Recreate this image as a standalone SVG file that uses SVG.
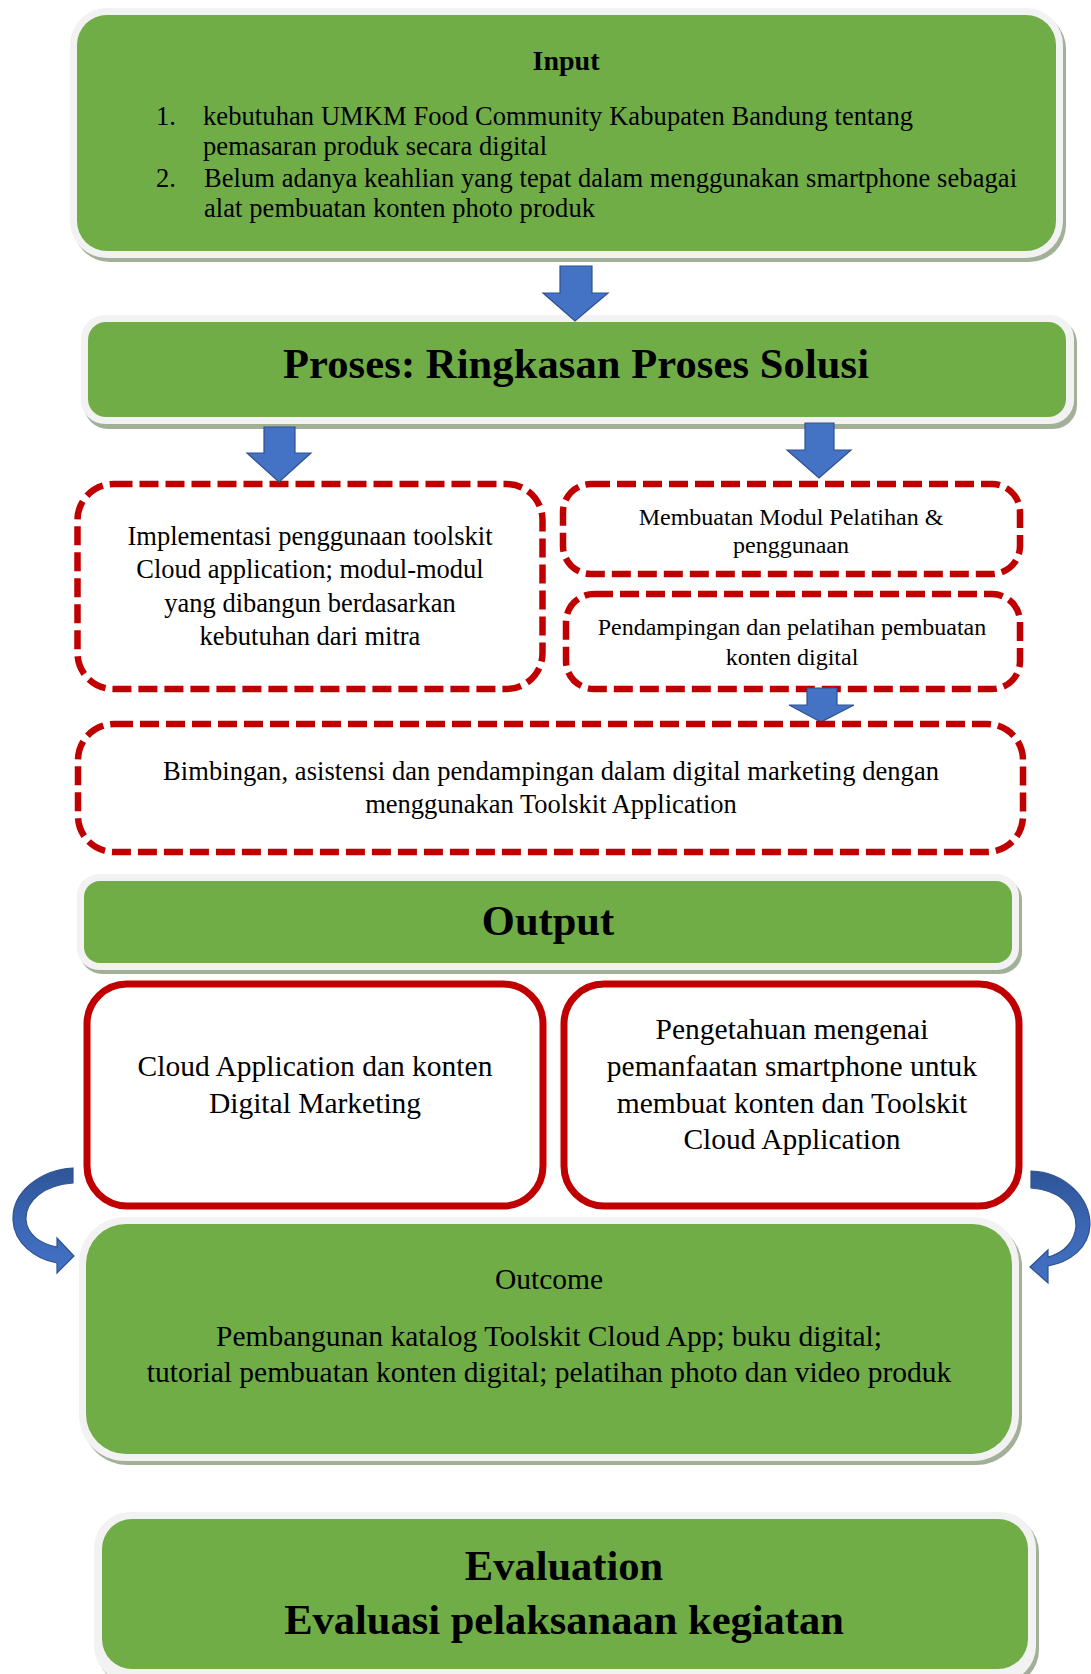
<svg xmlns="http://www.w3.org/2000/svg" width="1091" height="1674" viewBox="0 0 1091 1674">
<defs>
<style>
.shadow{fill:#A3B098}
.frame{fill:#F2F2F2}
.green{fill:#70AD47}
.dash{fill:#FFFFFF;stroke:#C00000;stroke-width:6.5;stroke-dasharray:19 7}
.solid{fill:#FFFFFF;stroke:#C00000;stroke-width:7}
.blk{fill:#4472C4;stroke:#2F528F;stroke-width:1.2}
.curv{fill:url(#cg);stroke:#2F528F;stroke-width:1.2}
text{font-family:"Liberation Serif","Times New Roman",serif;fill:#000000}
.t{font-size:26.5px}
.c{text-anchor:middle}
.s{font-size:24px}
.m{font-size:29.5px}
.h{font-size:42.5px;font-weight:bold}
</style>
<linearGradient id="cg" x1="0" y1="0" x2="0" y2="1">
<stop offset="0" stop-color="#2F5597"/>
<stop offset="0.5" stop-color="#3A66B4"/>
<stop offset="1" stop-color="#4472C4"/>
</linearGradient>
</defs>
<rect width="1091" height="1674" fill="#FFFFFF"/>

<g id="input">
<rect class="shadow" x="73" y="12" width="993" height="250" rx="37"/>
<rect class="frame" x="70" y="8" width="993" height="250" rx="37"/>
<rect class="green" x="77" y="15" width="979" height="236" rx="30"/>
<text x="566" y="70" class="c" style="font-size:28px;font-weight:bold">Input</text>
<text x="156" y="125" class="t">1.</text>
<text x="203" y="125" class="t" textLength="710">kebutuhan UMKM Food Community Kabupaten Bandung tentang</text>
<text x="203" y="155" class="t" textLength="344">pemasaran produk secara digital</text>
<text x="156" y="187" class="t">2.</text>
<text x="204" y="187" class="t" textLength="813">Belum adanya keahlian yang tepat dalam menggunakan smartphone sebagai</text>
<text x="204" y="217" class="t" textLength="391">alat pembuatan konten photo produk</text>
</g>

<g id="proses">
<rect class="shadow" x="84" y="319" width="993" height="110" rx="24"/>
<rect class="frame" x="81" y="315" width="993" height="109" rx="24"/>
<rect class="green" x="88" y="322" width="978" height="95" rx="18"/>
<text x="576" y="378" class="c h" textLength="586">Proses: Ringkasan Proses Solusi</text>
</g>

<g id="box-implementasi">
<rect class="dash" x="77.5" y="484" width="465" height="205" rx="36"/>
<text x="310" y="545" class="c t">Implementasi penggunaan toolskit</text>
<text x="310" y="578" class="c t">Cloud application; modul-modul</text>
<text x="310" y="612" class="c t">yang dibangun berdasarkan</text>
<text x="310" y="645" class="c t">kebutuhan dari mitra</text>
</g>

<g id="box-modul">
<rect class="dash" x="563" y="484" width="457" height="90" rx="28"/>
<text x="791" y="525" class="c s">Membuatan Modul Pelatihan &amp;</text>
<text x="791" y="553" class="c s">penggunaan</text>
</g>

<g id="box-pendampingan">
<rect class="dash" x="566" y="594" width="454" height="95" rx="28"/>
<text x="792" y="635" class="c s">Pendampingan dan pelatihan pembuatan</text>
<text x="792" y="665" class="c s">konten digital</text>
</g>

<g id="connectors">
<path class="blk" d="M560,266 H592 V293 H608 L575,321 L543,293 H560 Z"/>
<path class="blk" d="M264,427 H295 V453 H311 L279,482 L247,453 H264 Z"/>
<path class="blk" d="M805,423 H834 V450 H851 L819,478 L787,450 H805 Z"/>
<path class="blk" d="M807,688 H837 V705 H854 L821,722 L789,705 H807 Z"/>
<path class="curv" d="M73,1168 C40,1170 12,1192 13,1220 C14,1243 35,1259 57,1263 L57,1273 L74,1256 L57,1238 L57,1247 C40,1244 27,1234 26,1220 C25,1200 45,1185 73,1183 Z"/>
<path class="curv" d="M1031,1171 C1065,1172 1090,1198 1090,1225 C1089,1248 1070,1262 1048,1266 L1048,1283 L1030,1267 L1048,1250 L1048,1257 C1065,1253 1075,1240 1076,1226 C1076,1205 1058,1190 1031,1188 Z"/>
</g>

<g id="box-bimbingan">
<rect class="dash" x="78" y="724" width="945" height="128" rx="36" style="fill:none"/>
<text x="551" y="780" class="c t" textLength="776">Bimbingan, asistensi dan pendampingan dalam digital marketing dengan</text>
<text x="551" y="813" class="c t">menggunakan Toolskit Application</text>
</g>

<g id="output">
<rect class="shadow" x="80" y="878" width="942" height="96" rx="22"/>
<rect class="frame" x="77" y="874" width="942" height="96" rx="22"/>
<rect class="green" x="84" y="881" width="928" height="82" rx="16"/>
<text x="548" y="935" class="c h">Output</text>
</g>

<g id="output-cloud">
<rect class="solid" x="87" y="984" width="456" height="222" rx="40"/>
<text x="315" y="1076" class="c m">Cloud Application dan konten</text>
<text x="315" y="1113" class="c m">Digital Marketing</text>
</g>

<g id="output-pengetahuan">
<rect class="solid" x="564" y="984" width="455" height="222" rx="40"/>
<text x="792" y="1039" class="c m">Pengetahuan mengenai</text>
<text x="792" y="1076" class="c m">pemanfaatan smartphone untuk</text>
<text x="792" y="1113" class="c m">membuat konten dan Toolskit</text>
<text x="792" y="1149" class="c m">Cloud Application</text>
</g>

<g id="outcome">
<rect class="shadow" x="82" y="1221" width="940" height="244" rx="46"/>
<rect class="frame" x="79" y="1217" width="940" height="244" rx="46"/>
<rect class="green" x="86" y="1224" width="926" height="230" rx="40"/>
<text x="549" y="1289" class="c m">Outcome</text>
<text x="549" y="1346" class="c m">Pembangunan katalog Toolskit Cloud App; buku digital;</text>
<text x="549" y="1382" class="c m">tutorial pembuatan konten digital; pelatihan photo dan video produk</text>
</g>

<g id="evaluation">
<rect class="shadow" x="97" y="1516" width="942" height="170" rx="36"/>
<rect class="frame" x="94" y="1512" width="942" height="170" rx="36"/>
<rect class="green" x="102" y="1519" width="926" height="150" rx="30"/>
<text x="564" y="1580" class="c h">Evaluation</text>
<text x="564" y="1634" class="c h">Evaluasi pelaksanaan kegiatan</text>
</g>
</svg>
